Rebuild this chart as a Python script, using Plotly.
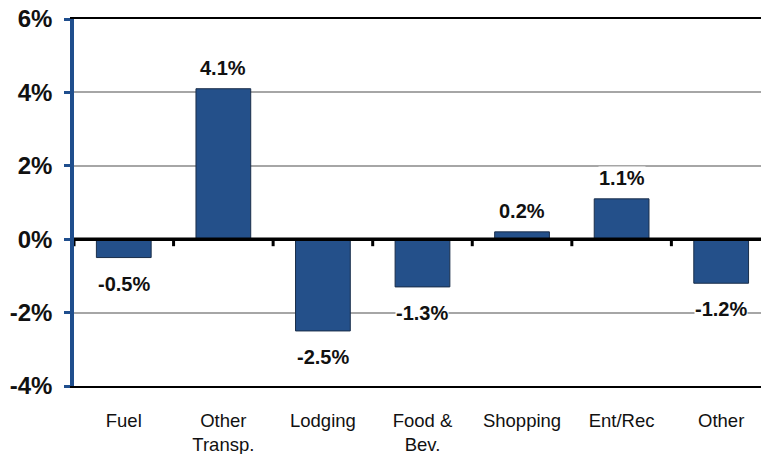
import plotly.graph_objects as go

categories = ["Fuel", "Other<br>Transp.", "Lodging", "Food &amp;<br>Bev.", "Shopping", "Ent/Rec", "Other"]
values = [-0.5, 4.1, -2.5, -1.3, 0.2, 1.1, -1.2]
y_ticks = [-4, -2, 0, 2, 4, 6]
y_tick_text = ["-4%", "-2%", "0%", "2%", "4%", "6%"]

BLUE = "#1F4E8D"
BAR = "#24508A"
FONT = "Liberation Sans, Arial, sans-serif"

x_idx = list(range(len(categories)))

fig = go.Figure()
fig.add_trace(go.Bar(
    x=x_idx, y=values, width=0.55,
    marker=dict(color=BAR, line=dict(color="#1A2E4A", width=1)),
    showlegend=False, hoverinfo="skip",
))

# value labels with white boxes over gridlines
for i, v in enumerate(values):
    fig.add_annotation(
        x=i, y=v, text=f"{v:.1f}%", showarrow=False,
        yshift=21 if v > 0 else -26,
        font=dict(family=FONT, size=20, color="#111111", weight="bold"),
        bgcolor="white", borderpad=0,
    )

# zero line with category tick marks
fig.add_shape(type="line", xref="x", yref="y", x0=-0.5, x1=6.6, y0=0, y1=0,
              line=dict(color="black", width=3.5), layer="above")
for b in [i + 0.5 for i in range(-1, 6)]:
    fig.add_shape(type="line", xref="x", yref="y", ysizemode="pixel", yanchor=0,
                  x0=b, x1=b, y0=0, y1=-7, line=dict(color="black", width=3), layer="above")

fig.update_layout(
    width=761, height=454,
    margin=dict(l=74, r=0, t=19, b=68),
    plot_bgcolor="white", paper_bgcolor="white",
    bargap=0.45,
    xaxis=dict(
        range=[-0.5, 6.4], tickmode="array", tickvals=x_idx, ticktext=categories,
        showgrid=False, zeroline=False, showline=True, linecolor="black", linewidth=2,
        mirror=True, ticks="", ticklabelstandoff=17, automargin=False,
        tickfont=dict(family=FONT, size=18.5, color="#111111"),
    ),
    yaxis=dict(
        range=[-4, 6], tickmode="array", tickvals=y_ticks, ticktext=y_tick_text,
        showgrid=True, gridcolor="#A6A6A6", gridwidth=1.5, zeroline=False,
        showline=True, linecolor=BLUE, linewidth=3.5, automargin=False,
        ticks="outside", ticklen=6, tickwidth=3, tickcolor=BLUE, ticklabelstandoff=7,
        tickfont=dict(family=FONT, size=24, color="#111111", weight="bold"),
    ),
)

fig.write_html("out.html")
